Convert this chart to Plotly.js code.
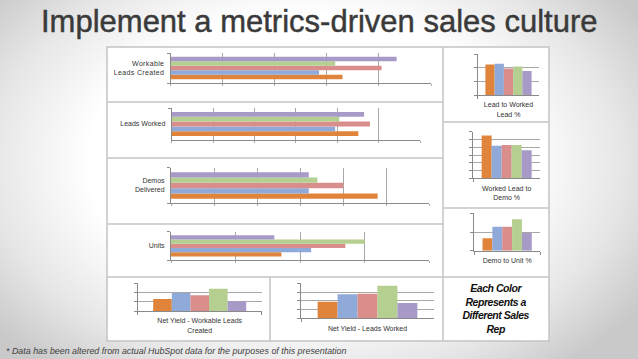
<!DOCTYPE html>
<html>
<head>
<meta charset="utf-8">
<script src="https://cdn.plot.ly/plotly-3.0.1.min.js"></script>
<style>
  html, body { margin: 0; padding: 0; }
  body { width: 638px; height: 359px; overflow: hidden;
    background: radial-gradient(ellipse 62% 75% at 48% 45%, #ffffff 55%, #e6e6e6 80%, #c9c9c9 100%); }
  #chart { width: 638px; height: 359px; }
  #chart .xtick text, #chart .ytick text { letter-spacing: 0.35px; }
  #chart g.annotation[data-index="0"] text { stroke: #3a3a3a; stroke-width: 0.45px; }
  #chart g.annotation[data-index="2"] text { letter-spacing: -0.45px; }
</style>
</head>
<body>
<div id="chart"></div>
<script>
// ---------------- data ----------------
const reps = ["Rep A", "Rep B", "Rep C", "Rep D", "Rep E"]; // orange, blue, pink, green, purple

const workableLeadsCreated = [330, 285, 405, 316, 434];
const leadsWorked = [451, 395, 479, 405, 465];
const demosDelivered = [48, 32, 40, 34, 32];
const unitsSold = [17.1, 21.7, 27, 30, 16];

const leadToWorkedPct = [90, 92, 78, 84, 71];
const workedToDemoPct = [55, 42, 43, 43, 36];
const demoToUnitPct = [33, 64, 64, 84, 47];

const netYieldWorkable = [6.5, 9.8, 8.5, 12.1, 5.1];
const netYieldWorked = [9.5, 13.7, 14.1, 18.6, 8.7];

const hLabels = ["Workable<br>Leads Created", "Leads Worked", "Demos<br>Delivered", "Units"];
const vLabels = ["Lead to Worked<br>Lead %", "Worked Lead to<br>Demo %", "Demo to Unit %",
                 "Net Yield - Workable Leads<br>Created", "Net Yield - Leads Worked"];

const titleText = "Implement a metrics-driven sales culture";
const footText = "* Data has been altered from actual HubSpot data for the purposes of this presentation";
const legendNote = "Each Color<br>Represents a<br>Different Sales<br>Rep";

// ---------------- styles ----------------
const colors = ["#E0843B", "#8FA9D9", "#D98E8C", "#B4CF8F", "#A89AC7"];
const W = 638, H = 359;
const px = x => x / W;
const py = y => 1 - y / H;
const gridC = "#a8a8a8", lineC = "#8a8a8a";
const lblFont = { family: "Liberation Sans, Arial, sans-serif", size: 7, color: "#333" };

const traces = [];
const layout = {
  width: W, height: H,
  margin: { l: 0, r: 0, t: 0, b: 0 },
  paper_bgcolor: "rgba(0,0,0,0)", plot_bgcolor: "rgba(0,0,0,0)",
  showlegend: false, barmode: "group", bargap: 0.25, bargroupgap: 0,
  shapes: [], annotations: []
};

// horizontal charts: [values, label, x0, x1, y0, y1, max, dtick]
const hCharts = [
  [workableLeadsCreated, hLabels[0], 170.7, 431, 53, 83, 500, 100],
  [leadsWorked, hLabels[1], 171.7, 420, 108, 140, 600, 100],
  [demosDelivered, hLabels[2], 171, 429.3, 167.7, 203.3, 60, 10],
  [unitsSold, hLabels[3], 171, 429.3, 231.7, 260, 40, 10]
];
// vertical charts
const vCharts = [
  [leadToWorkedPct, vLabels[0], 477.7, 539.3, 54.3, 95, 120, 40],
  [workedToDemoPct, vLabels[1], 473.3, 540, 131.7, 178.3, 60, 10],
  [demoToUnitPct, vLabels[2], 474.3, 540, 213.3, 250.7, 100, 50],
  [netYieldWorkable, vLabels[3], 137.7, 261.7, 283.3, 311, 15, 5],
  [netYieldWorked, vLabels[4], 301, 434, 283.3, 318.3, 20, 5]
];

let n = 0;
hCharts.forEach(c => {
  n++;
  const [vals, lab, x0, x1, y0, y1, mx, dt] = c;
  const xa = "x" + n, ya = "y" + n;
  vals.forEach((v, i) => traces.push({
    type: "bar", orientation: "h", x: [v], y: [lab], name: reps[i],
    marker: { color: colors[i] }, xaxis: xa, yaxis: ya, hoverinfo: "skip"
  }));
  layout["xaxis" + n] = {
    domain: [px(x0), px(x1)], anchor: ya, range: [0, mx], tick0: 0, dtick: dt,
    showgrid: true, gridcolor: gridC, gridwidth: 1, zeroline: false,
    showline: true, linecolor: lineC, ticks: "outside", ticklen: 2, tickcolor: gridC,
    showticklabels: false, automargin: false, fixedrange: true
  };
  layout["yaxis" + n] = {
    domain: [py(y1), py(y0)], anchor: xa, type: "category", range: [-0.5, 0.5],
    tickson: "boundaries", ticks: "outside", ticklen: 3, tickcolor: lineC,
    showline: true, linecolor: lineC, showgrid: false, zeroline: false,
    tickfont: lblFont, ticklabelstandoff: 4, automargin: false, fixedrange: true
  };
});
vCharts.forEach(c => {
  n++;
  const [vals, lab, x0, x1, y0, y1, mx, dt] = c;
  const xa = "x" + n, ya = "y" + n;
  vals.forEach((v, i) => traces.push({
    type: "bar", x: [lab], y: [v], name: reps[i],
    marker: { color: colors[i] }, xaxis: xa, yaxis: ya, hoverinfo: "skip"
  }));
  layout["xaxis" + n] = {
    domain: [px(x0), px(x1)], anchor: ya, type: "category", range: [-0.5, 0.5],
    tickson: "boundaries", ticks: "outside", ticklen: 3, tickcolor: lineC,
    showline: true, linecolor: lineC, showgrid: false, zeroline: false,
    tickfont: lblFont, ticklabelstandoff: 3, automargin: false, fixedrange: true
  };
  layout["yaxis" + n] = {
    domain: [py(y1), py(y0)], anchor: xa, range: [0, mx], tick0: 0, dtick: dt,
    showgrid: true, gridcolor: gridC, gridwidth: 1, zeroline: false,
    showline: true, linecolor: lineC, ticks: "outside", ticklen: 3, tickcolor: lineC,
    showticklabels: false, automargin: false, fixedrange: true
  };
});

// table
const tb = "#c4c4c4";
function ln(x0, y0, x1, y1) {
  layout.shapes.push({ type: "line", xref: "paper", yref: "paper", layer: "below",
    x0: px(x0), x1: px(x1), y0: py(y0), y1: py(y1), line: { color: tb, width: 1.5 } });
}
layout.shapes.push({ type: "rect", xref: "paper", yref: "paper", layer: "below",
  x0: px(107), x1: px(549), y0: py(341), y1: py(47),
  fillcolor: "#ffffff", line: { color: tb, width: 1.5 } });
ln(443, 47, 443, 341);
ln(270, 277, 270, 341);
ln(107, 277, 549, 277);
[102, 158, 224].forEach(y => ln(107, y, 443, y));
[122, 208].forEach(y => ln(443, y, 549, y));

// texts
layout.annotations.push({
  xref: "paper", yref: "paper", x: 0.5, y: py(21), xanchor: "center", yanchor: "middle",
  text: titleText, showarrow: false,
  font: { family: "Liberation Sans, Arial, sans-serif", size: 31, color: "#3a3a3a" }
});
layout.annotations.push({
  xref: "paper", yref: "paper", x: px(4), y: py(351), xanchor: "left", yanchor: "middle",
  text: "<i>" + footText + "</i>", showarrow: false,
  font: { family: "Liberation Sans, Arial, sans-serif", size: 8.9, color: "#404040" }
});
layout.annotations.push({
  xref: "paper", yref: "paper", x: px(496), y: py(308), xanchor: "center", yanchor: "middle",
  text: "<b><i>" + legendNote + "</i></b>", showarrow: false, align: "center",
  font: { family: "Liberation Sans Narrow, Arial Narrow, Liberation Sans, sans-serif", size: 10.5, color: "#111" }
});

Plotly.newPlot("chart", traces, layout, { displayModeBar: false, staticPlot: true });
</script>
</body>
</html>
